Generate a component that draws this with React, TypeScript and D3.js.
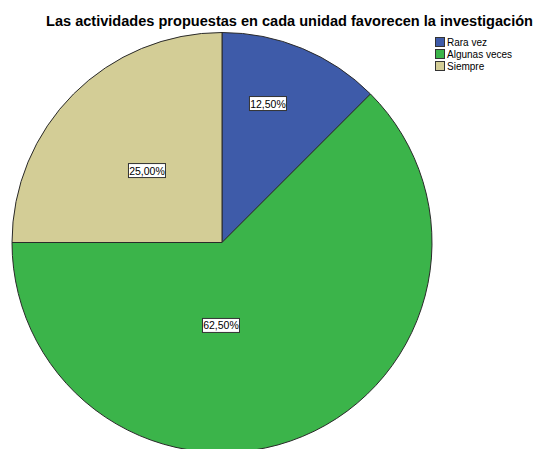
import React from "react";
import * as d3 from "d3";

const categories = ["Rara vez", "Algunas veces", "Siempre"];
const values = [12.5, 62.5, 25.0];
const labels = ["12,50%", "62,50%", "25,00%"];
const colors = ["#3E5BA9", "#3BB44A", "#D3CD96"];
// label placement (SPSS-like): angle in degrees from 12 o'clock, radius fraction
const labelAngleDeg = [18.3, 180.7, 313.8];
const labelRadiusFrac = [0.697, 0.395, 0.495];

const W = 536;
const H = 449;

export default function App() {
  const cx = 222;
  const cy = 242.5;
  const r = 210;
  const pie = d3.pie<number>().sort(null).value((d) => d);
  const arcs = pie(values);
  const arc = d3.arc<d3.PieArcDatum<number>>().innerRadius(0).outerRadius(r);

  return (
    <svg
      width={W}
      height={H}
      style={{ position: "absolute", left: 0, top: 0, background: "#fff" }}
      fontFamily="Liberation Sans, Arial, sans-serif"
    >
      <rect width={W} height={H} fill="#fff" />
      <text
        x={46}
        y={26}
        fontSize={14.5}
        fontWeight="bold"
        fill="#000"
        textLength={487}
        lengthAdjust="spacingAndGlyphs"
      >
        Las actividades propuestas en cada unidad favorecen la investigación
      </text>
      <g transform={`translate(${cx},${cy})`}>
        {arcs.map((a, i) => (
          <path key={i} d={arc(a) || ""} fill={colors[i]} stroke="#2a2a2a" strokeWidth={1} />
        ))}
        {arcs.map((a, i) => {
          const ang = (labelAngleDeg[i] * Math.PI) / 180;
          const rr = labelRadiusFrac[i] * r;
          const x = Math.sin(ang) * rr;
          const y = -Math.cos(ang) * rr;
          const bw = 37;
          const bh = 14;
          return (
            <g key={"l" + i}>
              <rect x={x - bw / 2} y={y - bh / 2} width={bw} height={bh} fill="#fff" stroke="#333" strokeWidth={1} />
              <text x={x} y={y + 4} textAnchor="middle" fontSize={10.5} fill="#000">
                {labels[i]}
              </text>
            </g>
          );
        })}
      </g>
      <g transform="translate(435,37)">
        {categories.map((c, i) => (
          <g key={c} transform={`translate(0,${i * 12})`}>
            <rect x={0.5} y={0.5} width={9} height={9} fill={colors[i]} stroke="#333" strokeWidth={1} />
            <text x={12} y={8.5} fontSize={10} fill="#000">
              {c}
            </text>
          </g>
        ))}
      </g>
    </svg>
  );
}
